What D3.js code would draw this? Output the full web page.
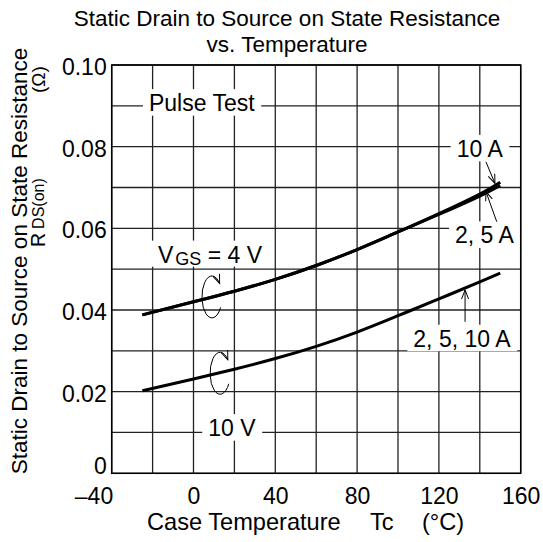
<!DOCTYPE html>
<html>
<head>
<meta charset="utf-8">
<script src="https://cdn.jsdelivr.net/npm/d3@7"></script>
<style>
  body { margin: 0; background: #fff; }
  svg { display: block; font-family: "Liberation Sans", Arial, sans-serif; }
</style>
</head>
<body>
<div class="chart"></div>
<script>
// case temperature (deg C) and R DS(on) (ohm)
var temps = [-25, 0, 20, 40, 60, 80, 100, 120, 140, 150];
var r4V10A = [0.0388, 0.0420, 0.0446, 0.0475, 0.0509, 0.0548, 0.0591, 0.0636, 0.0684, 0.0713];
var r4V25A = [0.0388, 0.0420, 0.0446, 0.0475, 0.0509, 0.0548, 0.0591, 0.0634, 0.0679, 0.0705];
var r10V = [0.0202, 0.0231, 0.0255, 0.0281, 0.0311, 0.0346, 0.0386, 0.0427, 0.0469, 0.0490];

var xTicks = [-40, 0, 40, 80, 120, 160];
var yTicks = [0, 0.02, 0.04, 0.06, 0.08, 0.10];
var yTickLabels = ["0", "0.02", "0.04", "0.06", "0.08", "0.10"];

// boxed labels on the grid (start of text, baseline)
var labelText = ["Pulse Test", "10 V", "10 A", "2, 5 A", "2, 5, 10 A"];
var labelT = [-21.8, 7.2, 128.7, 127.9, 107.5];
var labelR = [0.0887, 0.0091, 0.0775, 0.0563, 0.0310];

// straight pointer arrows
var arrowFromT = [143.0, 148.3, 132.8];
var arrowFromR = [0.0763, 0.0616, 0.0371];
var arrowToT = [147.4, 143.0, 132.8];
var arrowToR = [0.0710, 0.0690, 0.0449];

// curled arrows around the VGS curves
var curlT = [9.0, 13.0];
var curlR = [0.0432, 0.0245];

(function() {
  'use strict';

  var width = 543;
  var height = 542;
  var margin = {top: 65, right: 22.3, bottom: 68.7, left: 111.7};
  var fs = 23;

  var svg = d3.select(".chart").append("svg")
    .attr("width", width)
    .attr("height", height);

  var x = d3.scaleLinear().domain([-40, 160]).range([margin.left, width - margin.right]);
  var y = d3.scaleLinear().domain([0, 0.10]).range([height - margin.bottom, margin.top]);

  var defs = svg.append("defs");
  defs.append("marker")
    .attr("id", "head")
    .attr("viewBox", "-10 -5 11 10")
    .attr("refX", 0)
    .attr("refY", 0)
    .attr("markerUnits", "userSpaceOnUse")
    .attr("markerWidth", 11)
    .attr("markerHeight", 10)
    .attr("orient", "auto")
    .append("path")
    .attr("d", "M-9,-3.5L0,0L-9,3.5")
    .attr("fill", "none")
    .attr("stroke", "#000")
    .attr("stroke-width", 1);

  // grid
  var grid = svg.append("g").attr("stroke", "#222").attr("stroke-width", 1.3);
  grid.selectAll(".vx")
    .data(x.ticks(10))
    .enter().append("line")
    .attr("x1", function(d) { return x(d); })
    .attr("x2", function(d) { return x(d); })
    .attr("y1", y(0))
    .attr("y2", y(0.10));
  grid.selectAll(".hy")
    .data(y.ticks(10))
    .enter().append("line")
    .attr("x1", x(-40))
    .attr("x2", x(160))
    .attr("y1", function(d) { return y(d); })
    .attr("y2", function(d) { return y(d); });

  // boxed labels
  var lab = svg.append("g").attr("font-size", fs);
  labelText.forEach(function(t, i) {
    var g = lab.append("g");
    var rect = g.append("rect").attr("fill", "#fff");
    var txt = g.append("text")
      .attr("x", x(labelT[i]))
      .attr("y", y(labelR[i]))
      .text(t);
    var bb = txt.node().getBBox();
    rect.attr("x", bb.x - 6)
      .attr("width", bb.width + 12)
      .attr("y", y(labelR[i]) - 22)
      .attr("height", 26.5);
  });

  // VGS = 4 V label
  var vg = lab.append("g");
  var vrect = vg.append("rect").attr("fill", "#fff");
  var vt = vg.append("text")
    .attr("x", x(-17.4))
    .attr("y", y(0.0516));
  vt.append("tspan").text("V");
  vt.append("tspan").attr("font-size", 18).attr("dx", 2).attr("dy", 2.5).text("GS");
  vt.append("tspan").attr("dy", -2.5).text(" = 4 V");
  var vb = vt.node().getBBox();
  vrect.attr("x", vb.x - 8)
    .attr("width", vb.width + 12)
    .attr("y", y(0.0516) - 22)
    .attr("height", 26);

  // curves
  var line = d3.line()
    .x(function(d) { return x(d[0]); })
    .y(function(d) { return y(d[1]); })
    .curve(d3.curveNatural);

  [r4V25A, r4V10A, r10V].forEach(function(s) {
    svg.append("path")
      .attr("d", line(d3.zip(temps, s)))
      .attr("fill", "none")
      .attr("stroke", "#000")
      .attr("stroke-width", 3);
  });

  // pointer arrows
  arrowFromT.forEach(function(t, i) {
    svg.append("line")
      .attr("x1", x(t))
      .attr("y1", y(arrowFromR[i]))
      .attr("x2", x(arrowToT[i]))
      .attr("y2", y(arrowToR[i]))
      .attr("stroke", "#000")
      .attr("stroke-width", 1)
      .attr("marker-end", "url(#head)");
  });

  // curled arrows
  curlT.forEach(function(t, i) {
    var cx = x(t), cy = y(curlR[i]);
    svg.append("path")
      .attr("d", "M" + (cx + 8.7) + "," + (cy + 10.5) +
        "A10,21 0 1 1 " + (cx + 7.7) + "," + (cy - 13.5))
      .attr("fill", "none")
      .attr("stroke", "#000")
      .attr("stroke-width", 1)
      .attr("marker-end", "url(#head)");
  });

  // frame
  svg.append("rect")
    .attr("x", x(-40))
    .attr("y", y(0.10))
    .attr("width", x(160) - x(-40))
    .attr("height", y(0) - y(0.10))
    .attr("fill", "none")
    .attr("stroke", "#000")
    .attr("stroke-width", 1.5);

  // axes
  var xAxis = svg.append("g")
    .attr("transform", "translate(0," + y(0) + ")")
    .call(d3.axisBottom(x).tickValues(xTicks).tickSize(0).tickPadding(14)
      .tickFormat(function(d) { return d < 0 ? "\u2013" + Math.abs(d) : d; }));
  xAxis.select(".domain").remove();
  xAxis.selectAll("text")
    .attr("font-size", fs)
    .attr("font-family", null)
    .attr("fill", "#000")
    .attr("text-anchor", function(d) { return d < 0 ? "end" : "middle"; })
    .attr("dx", function(d) { return d < 0 ? 1 : 0; });

  var yAxis = svg.append("g")
    .attr("transform", "translate(" + x(-40) + ",0)")
    .call(d3.axisLeft(y).tickValues(yTicks).tickSize(0).tickPadding(5)
      .tickFormat(function(d, i) { return yTickLabels[i]; }));
  yAxis.select(".domain").remove();
  yAxis.selectAll("text")
    .attr("font-size", fs)
    .attr("font-family", null)
    .attr("fill", "#000")
    .attr("dy", function(d) { return d === 0 ? "0em" : "0.42em"; });

  // titles
  var title = svg.append("text")
    .attr("text-anchor", "middle")
    .attr("font-size", 22.5);
  title.append("tspan").attr("x", 287).attr("y", 26).text("Static Drain to Source on State Resistance");
  title.append("tspan").attr("x", 287).attr("y", 51.7).text("vs. Temperature");

  var xt = svg.append("text").attr("y", 530).attr("font-size", 23.6);
  xt.append("tspan").attr("x", 147).text("Case Temperature");
  xt.append("tspan").attr("x", 370).text("Tc");
  xt.append("tspan").attr("x", 422).text("(\u00b0C)");

  svg.append("text")
    .attr("transform", "translate(26.7,261) rotate(-90)")
    .attr("text-anchor", "middle")
    .attr("font-size", 22.5)
    .text("Static Drain to Source on State Resistance");

  var rt = svg.append("text")
    .attr("transform", "translate(45,247) rotate(-90)")
    .attr("font-size", 19.5);
  rt.append("tspan").text("R");
  rt.append("tspan").attr("font-size", 16).attr("dx", 4).attr("dy", -1).text("DS(on)");

  svg.append("text")
    .attr("transform", "translate(45,93) rotate(-90)")
    .attr("font-size", 19)
    .text("(\u03a9)");
})();
</script>
</body>
</html>
